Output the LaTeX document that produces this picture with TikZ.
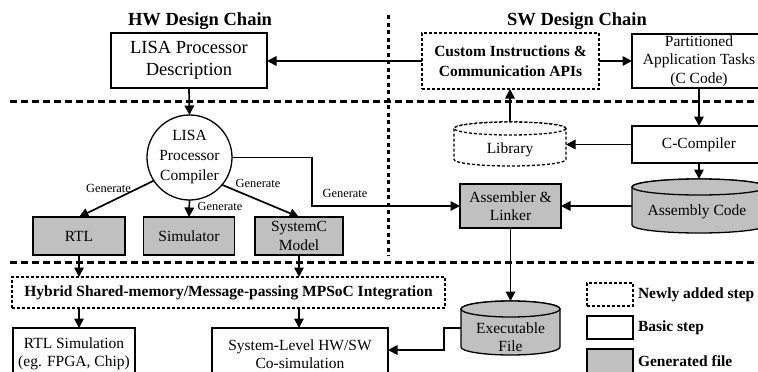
\documentclass[tikz,border=0pt]{standalone}
\usepackage{fontspec}
\setmainfont{Liberation Serif}
\usetikzlibrary{arrows.meta,calc}
\definecolor{genfill}{RGB}{192,192,192}

% cylinder drawn over a (borderless) rectangle node:
% #1 node name, #2 half width (pt), #3 vertical radius of the end caps (pt), #4 path options
\newcommand\drawcyl[4]{%
  \path[#4] ($(#1.north west)+(0,#3)$) -- ($(#1.south west)+(0,-#3)$)
    arc[start angle=180,end angle=360,x radius=#2pt,y radius=#3pt]
    -- ($(#1.north east)+(0,#3)$)
    arc[start angle=0,end angle=180,x radius=#2pt,y radius=#3pt] -- cycle;
  \path[#4] ($(#1.north)+(0,#3)$) ellipse[x radius=#2pt,y radius=#3pt];
}

\begin{document}
\begin{tikzpicture}[x=1pt,y=-1pt,
  every node/.style={inner sep=0pt,outer sep=0pt,align=center},
  txt/.style={font=\fontsize{15.5}{18.5}\selectfont},
  stepbox/.style={draw,line width=1.3pt,rectangle,txt},
  genbox/.style={stepbox,fill=genfill},
  newbox/.style={draw,line width=1.3pt,dash pattern=on 3pt off 2pt,rectangle,
    font=\bfseries\fontsize{15.5}{20}\selectfont},
  flow/.style={line width=1.7pt,-{Triangle[length=9.5pt,width=9.5pt]}},
  gen/.style={font=\fontsize{12.4}{14}\selectfont},
  title/.style={font=\bfseries\fontsize{18.5}{22}\selectfont},
  legtxt/.style={anchor=west,font=\bfseries\fontsize{15.5}{18}\selectfont},
  sepline/.style={line width=3pt,dash pattern=on 7pt off 4pt},
  vsepline/.style={line width=3pt,dash pattern=on 4pt off 3.5pt},
]
\useasboundingbox (0,0) rectangle (758,372);
\clip (0,0) rectangle (758,372);

% separators between the design stages
\draw[sepline] (10,101) -- (758,101);
\draw[sepline] (10,262) -- (758,262);
\draw[vsepline] (388,15) -- (388,256);

% chain titles
\node[title] (hwt) at (200,21) {HW Design Chain};
\node[title] (swt) at (577,21) {SW Design Chain};

% HW chain
\node[stepbox,minimum width=156,minimum height=55,font=\fontsize{18.5}{22}\selectfont]
  (lisa) at (189,60.5) {LISA Processor\\Description};
\node[draw,circle,line width=1.3pt,minimum size=85,font=\fontsize{15.5}{20}\selectfont]
  (comp) at (189.5,157.5) {LISA\\Processor\\Compiler};
\node[genbox,minimum width=92,minimum height=38] (rtl) at (79,236) {RTL};
\node[genbox,minimum width=91,minimum height=38] (sim) at (189,236) {Simulator};
\node[genbox,minimum width=88,minimum height=38] (sysc) at (299,236) {SystemC\\Model};

% SW chain
\node[newbox,minimum width=177,minimum height=56] (cust) at (510.5,61)
  {Custom Instructions \&\\Communication APIs};
\node[stepbox,minimum width=134,minimum height=54] (part) at (699,61)
  {Partitioned\\Application Tasks\\(C Code)};
\node[stepbox,minimum width=134,minimum height=37] (cc) at (699,144.5) {C-Compiler};
\node[genbox,minimum width=101,minimum height=44] (asl) at (510.5,206) {Assembler \&\\Linker};

% cylinders
\node[minimum width=112,minimum height=44] (lib) at (510,144) {};
\drawcyl{lib}{56}{6.5}{draw,line width=1.3pt,dash pattern=on 3pt off 2pt,fill=white}
\node[txt] (libt) at (510,150) {Library};

\node[minimum width=134,minimum height=54] (asm) at (699,206) {};
\drawcyl{asm}{67}{8}{draw,line width=1.3pt,fill=genfill}
\node[txt] (asmt) at (697,212) {Assembly Code};

\node[minimum width=99,minimum height=54] (exe) at (510.5,328) {};
\drawcyl{exe}{49.5}{8}{draw,line width=1.3pt,fill=genfill}
\node[txt] (exet) at (510.5,337) {Executable\\File};

% integration and simulation
\node[newbox,minimum width=433,minimum height=31] (hyb) at (228.5,292.5)
  {Hybrid Shared-memory/Message-passing MPSoC Integration};
\node[stepbox,minimum width=122,minimum height=52] (rtls) at (74,354)
  {RTL Simulation\\(eg. FPGA, Chip)};
\node[stepbox,minimum width=176,minimum height=52] (syss) at (300,354)
  {System-Level HW/SW\\Co-simulation};

% legend
\node[newbox,minimum width=46,minimum height=23] (lnew) at (610,294.5) {};
\node[stepbox,line width=1.6pt,minimum width=46,minimum height=23] (lbas) at (610,327.5) {};
\node[genbox,line width=1.6pt,minimum width=46,minimum height=26] (lgen) at (610,362) {};
\node[legtxt] (lnewt) at (638,295) {Newly added step};
\node[legtxt] (lbast) at (638,328) {Basic step};
\node[legtxt] (lgent) at (638,361) {Generated file};

% connectors
\draw[flow] (cust.west) -- (cust.west -| lisa.east);
\draw[flow] (cust.east) -- (cust.east -| part.west);
\draw[flow] (lib.north) -- (lib.north |- cust.south);
\draw[flow] (lisa.south) -- (comp.north);
\draw[flow] (part.south) -- (cc.north);
\draw[flow] (cc.west) -- (cc.west -| lib.east);
\draw[flow] (cc.south) -- (asm.north);
\draw[flow] (asm.west) -- (asm.west -| asl.east);
\draw[flow] (asl.south) -- (exe.north);

\draw[flow] (comp.213) -- (rtl.north);
\draw[flow] (comp.south) -- (sim.north);
\draw[flow] (comp.320) -- (sysc.north);
\coordinate (gx) at (312,157.5);
\draw[flow] (comp.east) -- (comp.east -| gx) |- (asl.west);

\node[gen] (g1) at (108.5,188) {Generate};
\node[gen] (g2) at (220,206) {Generate};
\node[gen] (g3) at (258,183) {Generate};
\node[gen] (g4) at (345,193) {Generate};

\draw[flow] (rtl.south) -- (rtl.south |- hyb.north);
\draw[flow] (sysc.south) -- (sysc.south |- hyb.north);
\draw[flow] (rtl.south |- hyb.south) -- (rtl.south |- rtls.north);
\draw[flow] (sysc.south |- hyb.south) -- (sysc.south |- syss.north);

\coordinate (ex) at (444,350);
\draw[flow] (exe.west) -| (ex) -- (ex -| syss.east);
\end{tikzpicture}
\end{document}
